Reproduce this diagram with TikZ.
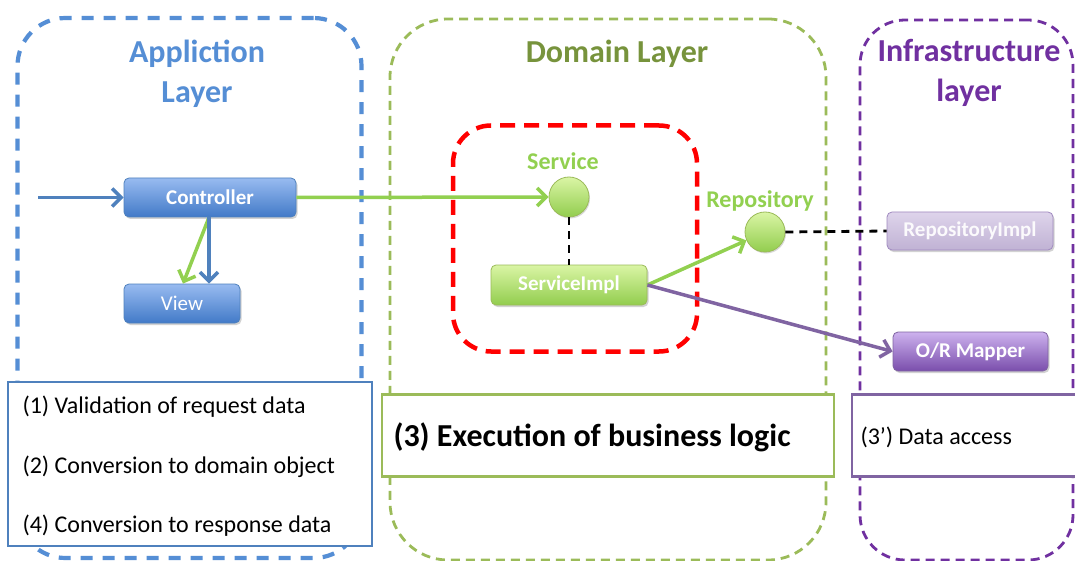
\documentclass[tikz,border=0pt]{standalone}
\usepackage{fontspec}
\setmainfont{Carlito}
\usetikzlibrary{arrows.meta,shadows,calc}
\definecolor{appblue}{RGB}{85,142,213}
\definecolor{boxblue}{RGB}{79,129,189}
\definecolor{domgreen}{RGB}{155,187,89}
\definecolor{titlegreen}{RGB}{119,147,60}
\definecolor{infpurple}{RGB}{112,48,160}
\definecolor{boxpurple}{RGB}{128,100,162}
\definecolor{arrgreen}{RGB}{146,208,80}
\definecolor{labgreen}{RGB}{146,208,80}
\definecolor{ctop}{RGB}{152,187,240}
\definecolor{cbot}{RGB}{66,122,200}
\definecolor{gtop}{RGB}{218,245,165}
\definecolor{gbot}{RGB}{146,205,78}
\definecolor{ptop}{RGB}{205,178,238}
\definecolor{pbot}{RGB}{122,78,172}
\definecolor{rtop}{RGB}{222,212,235}
\definecolor{rbot}{RGB}{192,178,212}
\definecolor{rborder}{RGB}{160,138,192}
\tikzset{
  layerbox/.style={draw, rounded corners=#1, fill=none},
  title/.style={font=\fontsize{32}{40}\selectfont\bfseries, align=center},
  comp/.style={rounded corners=5pt, font=\fontsize{21}{24}\selectfont\bfseries, text=white,
     drop shadow={opacity=0.35, shadow xshift=1.5pt, shadow yshift=-2pt}},
  bluecomp/.style={comp, draw=boxblue, line width=0.8pt, top color=ctop, bottom color=cbot},
  greencomp/.style={comp, draw=domgreen, line width=0.8pt, top color=gtop, bottom color=gbot},
  iface/.style={circle, minimum size=40pt, draw=domgreen, line width=0.8pt, top color=gtop, bottom color=gbot,
     drop shadow={opacity=0.3, shadow xshift=1pt, shadow yshift=-1.5pt}},
  iflabel/.style={font=\fontsize{24}{28}\selectfont\bfseries, text=labgreen},
  arr/.style={line width=3.5pt, -{Straight Barb[length=9pt,width=18pt,line width=3.5pt]}},
  link/.style={line width=2.8pt, dash pattern=on 8pt off 6pt, black},
  notebox/.style={fill=white, line width=2.5pt},
  notetext/.style={font=\fontsize{24}{28}\selectfont, anchor=west},
}
\begin{document}
\begin{tikzpicture}[x=1pt,y=-1pt]
\clip (0,0) rectangle (1075,561);
\fill[white] (0,0) rectangle (1075,561);
% layers
\node[layerbox=48pt, draw=appblue, line width=4.2pt, dash pattern=on 12pt off 10pt,
      minimum width=344pt, minimum height=540pt] (applayer) at (189.5,288) {};
\node[layerbox=58pt, draw=domgreen, line width=2.8pt, dash pattern=on 9pt off 6pt,
      minimum width=436pt, minimum height=541pt] (domlayer) at (608,289.5) {};
\node[layerbox=45pt, draw=infpurple, line width=2.8pt, dash pattern=on 9pt off 6pt,
      minimum width=213pt, minimum height=540pt] (inflayer) at (966.5,290) {};
% titles
\node[title, text=appblue] (apptitle) at (197,74) {Appliction\\Layer};
\node[title, text=titlegreen] (domtitle) at (617,54) {Domain Layer};
\node[title, text=infpurple] (inftitle) at (969,73) {Infrastructure\\layer};
% red box
\node[layerbox=38pt, draw=red, line width=4.5pt, dash pattern=on 15pt off 9pt,
      minimum width=244pt, minimum height=226pt] (redbox) at (575,238.5) {};
% components
\node[bluecomp, minimum width=172pt, minimum height=39pt] (controller) at (210,197.5) {Controller};
\node[bluecomp, minimum width=116pt, minimum height=39pt, font=\fontsize{21}{24}\selectfont] (view) at (182,303.5) {View};
\node[iface] (service) at (569,197) {};
\node[iflabel] (servicelab) at (563,161) {Service};
\node[greencomp, minimum width=156pt, minimum height=40pt] (serviceimpl) at (569,285) {ServiceImpl};
\node[iface] (repo) at (765,232) {};
\node[iflabel] (repolab) at (760,201) {Repository};
\node[comp, draw=rborder, line width=0.8pt, top color=rtop, bottom color=rbot, text=white!93!rbot,
      minimum width=166pt, minimum height=38pt] (repoimpl) at (970,231) {RepositoryImpl};
\node[comp, draw=boxpurple, line width=0.8pt, top color=ptop, bottom color=pbot,
      minimum width=155pt, minimum height=39pt] (ormapper) at (970.5,351.5) {O/R Mapper};
% connectors
\coordinate (in) at (38,197.5);
\draw[arr, draw=boxblue] (in) -- (controller.west);
\draw[arr, draw=arrgreen] (controller.east) -- (service.west);
\draw[arr, draw=arrgreen] ($(controller.south)+(-1,0)$) -- ($(view.north)+(1,0)$);
\draw[arr, draw=boxblue] ($(controller.south)+(-1,0)$) -- ($(controller.south |- view.north)+(-1,0)$);
\draw[link] (service.south) -- (serviceimpl.north);
\draw[arr, draw=arrgreen] (serviceimpl.east) -- (repo);
\draw[link] (repo.east) -- (repoimpl.west);
\draw[arr, draw=boxpurple] (serviceimpl.east) -- (ormapper.west);
% note boxes
\node[notebox, draw=boxblue, minimum width=364pt, minimum height=164pt] (note1) at (190,464) {};
\node[notetext] (n1) at (19,407) {(1) Validation of request data};
\node[notetext] (n2) at (19,467) {(2) Conversion to domain object};
\node[notetext] (n4) at (19,526) {(4) Conversion to response data};
\node[notebox, draw=domgreen, minimum width=452pt, minimum height=82pt] (note3) at (608,435.5) {};
\node[notetext, font=\fontsize{32}{36}\selectfont\bfseries] (n3) at (390,437) {(3) Execution of business logic};
\node[notebox, draw=boxpurple, minimum width=240pt, minimum height=82pt] (note3b) at (972,435.5) {};
\node[notetext] (n3b) at (857,437) {(3’) Data access};
\end{tikzpicture}
\end{document}
